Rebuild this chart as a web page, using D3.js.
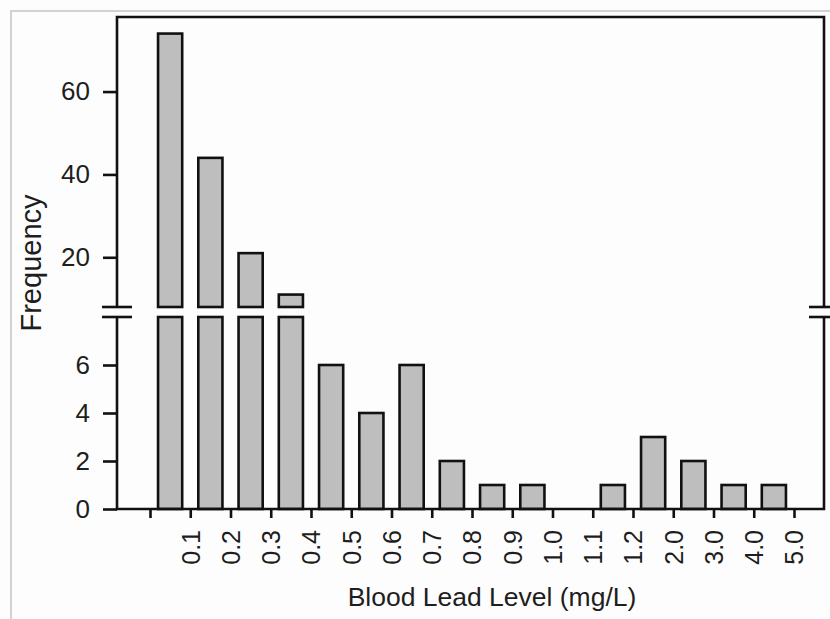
<!DOCTYPE html>
<html>
<head>
<meta charset="utf-8">
<script src="https://cdn.jsdelivr.net/npm/d3@7"></script>
<style>
  html, body { margin: 0; padding: 0; background: #fdfdfd; }
  svg { display: block; }
  text { font-family: "Liberation Sans", Arial, sans-serif; fill: #1e1e1e; }
</style>
</head>
<body>
<svg id="chart"></svg>
<script>
// Histogram of blood lead levels, with a broken y axis

// bins between consecutive edges; first edge has no label
var edgeLabels = ['', '0.1', '0.2', '0.3', '0.4', '0.5', '0.6', '0.7', '0.8',
  '0.9', '1.0', '1.1', '1.2', '2.0', '3.0', '4.0', '5.0'];
var bins = ['<0.1', '0.1-0.2', '0.2-0.3', '0.3-0.4', '0.4-0.5', '0.5-0.6',
  '0.6-0.7', '0.7-0.8', '0.8-0.9', '0.9-1.0', '1.0-1.1', '1.1-1.2',
  '1.2-2.0', '2.0-3.0', '3.0-4.0', '4.0-5.0'];
var counts = [74, 44, 21, 11, 6, 4, 6, 2, 1, 1, 0, 1, 3, 2, 1, 1];

var upperTicks = [20, 40, 60];
var lowerTicks = [0, 2, 4, 6];
var breakAt = 8;

var width = 830;
var height = 619;

// plot box (window.top is read-only, so don't call it "top")
var plotLeft = 117, plotRight = 824;
var plotTop = 17, upperBottom = 307, lowerTop = 317, plotBottom = 509;

var svg = d3.select('#chart')
  .attr('width', width)
  .attr('height', height);

// light grey frame round the figure
svg.append('path')
  .attr('d', 'M11,' + height + 'V11H' + width)
  .attr('fill', 'none')
  .attr('stroke', '#d2d2d2')
  .attr('stroke-width', 2);

var edgeX = d3.scaleLinear()
  .domain([0, bins.length])
  .range([150, 794]);

var x = d3.scaleBand()
  .domain(bins)
  .range(edgeX.range())
  .paddingInner(0.4)
  .paddingOuter(0.2);

var yUp = d3.scaleLinear()
  .domain([breakAt, 78])
  .range([upperBottom, plotTop]);

var yLow = d3.scaleLinear()
  .domain([0, breakAt])
  .range([plotBottom, lowerTop]);

var data = bins.map(function (b, i) { return { bin: b, value: counts[i] }; });

// upper part of the bars that pass the break
svg.append('g').selectAll('rect')
  .data(data.filter(function (d) { return d.value > breakAt; }))
  .enter().append('rect')
    .attr('x', function (d) { return x(d.bin); })
    .attr('y', function (d) { return yUp(d.value); })
    .attr('width', x.bandwidth())
    .attr('height', function (d) { return yUp(breakAt) - yUp(d.value); })
    .attr('fill', '#bebebe')
    .attr('stroke', '#111')
    .attr('stroke-width', 2.6);

// lower part
svg.append('g').selectAll('rect')
  .data(data.filter(function (d) { return d.value > 0; }))
  .enter().append('rect')
    .attr('x', function (d) { return x(d.bin); })
    .attr('y', function (d) { return yLow(Math.min(d.value, breakAt)); })
    .attr('width', x.bandwidth())
    .attr('height', function (d) { return yLow(0) - yLow(Math.min(d.value, breakAt)); })
    .attr('fill', '#bebebe')
    .attr('stroke', '#111')
    .attr('stroke-width', 2.6);

function styleAxis(g, size) {
  g.select('.domain').remove();
  g.selectAll('line').attr('stroke', '#111').attr('stroke-width', 2.6);
  g.selectAll('text')
    .style('font-size', size + 'px')
    .style('font-family', '"Liberation Sans", Arial, sans-serif')
    .attr('fill', '#1e1e1e');
}

// y axes (ticks only, lines drawn below)
svg.append('g')
  .attr('transform', 'translate(' + plotLeft + ',0)')
  .call(d3.axisLeft(yUp).tickValues(upperTicks).tickSize(14).tickPadding(13))
  .call(styleAxis, 26);

svg.append('g')
  .attr('transform', 'translate(' + plotLeft + ',0)')
  .call(d3.axisLeft(yLow).tickValues(lowerTicks).tickSize(14).tickPadding(13))
  .call(styleAxis, 26);

// x axis at the bin edges
var xAxis = svg.append('g')
  .attr('transform', 'translate(0,' + plotBottom + ')')
  .call(d3.axisBottom(edgeX)
    .tickValues(d3.range(edgeLabels.length))
    .tickFormat(function (i) { return edgeLabels[i]; })
    .tickSize(9))
  .call(styleAxis, 25);

xAxis.selectAll('text')
  .attr('transform', 'rotate(-90)')
  .attr('text-anchor', 'end')
  .attr('x', -21)
  .attr('y', 0)
  .attr('dy', '0.35em');

// frame lines, broken between the two panels
var frame = [
  [[plotLeft, upperBottom], [plotLeft, plotTop], [plotRight, plotTop], [plotRight, upperBottom]],
  [[plotLeft, lowerTop], [plotLeft, plotBottom], [plotRight, plotBottom], [plotRight, lowerTop]]
];
svg.append('g').selectAll('path')
  .data(frame)
  .enter().append('path')
    .attr('d', d3.line())
    .attr('fill', 'none')
    .attr('stroke', '#111')
    .attr('stroke-width', 2.6);

// break marks on both sides
var marks = [];
[plotLeft, plotRight].forEach(function (xx) {
  [upperBottom, lowerTop].forEach(function (yy) {
    marks.push({ x: xx, y: yy });
  });
});
svg.append('g').selectAll('line')
  .data(marks)
  .enter().append('line')
    .attr('x1', function (d) { return d.x - 15; })
    .attr('x2', function (d) { return d.x + 15; })
    .attr('y1', function (d) { return d.y; })
    .attr('y2', function (d) { return d.y; })
    .attr('stroke', '#111')
    .attr('stroke-width', 2.6);

// titles
svg.append('text')
  .attr('transform', 'translate(41,' + ((plotTop + plotBottom) / 2) + ') rotate(-90)')
  .attr('text-anchor', 'middle')
  .style('font-size', '29px')
  .text('Frequency');

svg.append('text')
  .attr('x', 492)
  .attr('y', 606)
  .attr('text-anchor', 'middle')
  .style('font-size', '26.5px')
  .text('Blood Lead Level (mg/L)');
</script>
</body>
</html>
